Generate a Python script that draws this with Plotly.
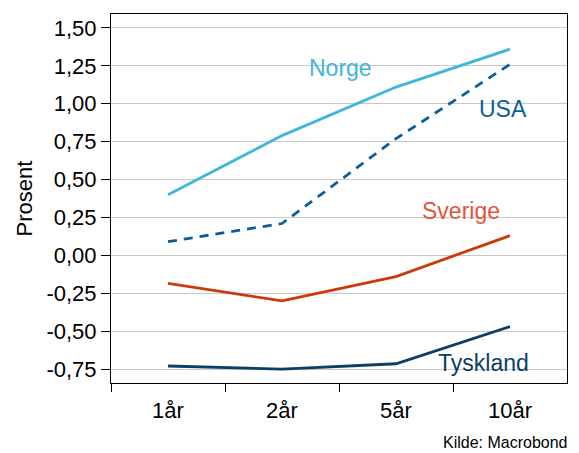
import plotly.graph_objects as go

categories = ["1år", "2år", "5år", "10år"]
norge = [0.40, 0.79, 1.11, 1.36]
usa = [0.09, 0.21, 0.77, 1.26]
sverige = [-0.185, -0.30, -0.14, 0.13]
tyskland = [-0.73, -0.75, -0.715, -0.47]

ytick_vals = [1.50, 1.25, 1.00, 0.75, 0.50, 0.25, 0.00, -0.25, -0.50, -0.75]
ytick_labels = ["1,50", "1,25", "1,00", "0,75", "0,50", "0,25", "0,00", "-0,25", "-0,50", "-0,75"]
xtick_boundaries = [-0.5, 0.5, 1.5, 2.5]

FONT = "Liberation Sans, Arial, sans-serif"

fig = go.Figure()
series = [
    ("Norge", norge, "#40b6da", "solid"),
    ("USA", usa, "#0b5e9c", "9px,7px"),
    ("Sverige", sverige, "#cc3a0c", "solid"),
    ("Tyskland", tyskland, "#0b3f66", "solid"),
]
for name, vals, col, dash in series:
    fig.add_trace(go.Scatter(x=categories, y=vals, mode="lines", name=name,
                             line=dict(color=col, width=2.8, dash=dash)))

# invisible helper trace so the boundary-tick axis is drawn
fig.add_trace(go.Scatter(x=[0], y=[0], xaxis="x2", mode="markers",
                         marker=dict(opacity=0), hoverinfo="skip", showlegend=False))

labels = [
    ("Norge", 1.51, 1.236, "#40b6da"),
    ("USA", 2.94, 0.966, "#0b5e9c"),
    ("Sverige", 2.57, 0.293, "#e2553a"),
    ("Tyskland", 2.77, -0.71, "#0b3f66"),
]
for txt, xv, yv, col in labels:
    fig.add_annotation(x=xv, y=yv, xref="x", yref="y", text=txt, showarrow=False,
                       font=dict(family=FONT, size=23, color=col))

fig.add_annotation(x=1.0, y=-0.1626, xref="paper", yref="paper", text="Kilde: Macrobond",
                   showarrow=False, xanchor="right", yanchor="middle", xshift=3,
                   font=dict(family=FONT, size=16, color="black"))

fig.add_annotation(x=-0.1886, y=0.5, xref="paper", yref="paper", text="Prosent",
                   showarrow=False, textangle=-90, xanchor="center", yanchor="middle",
                   font=dict(family=FONT, size=22, color="black"))

fig.update_layout(
    width=571, height=445,
    margin=dict(l=103, r=12, t=6, b=70),
    paper_bgcolor="white", plot_bgcolor="white",
    showlegend=False,
    font=dict(family=FONT, size=22, color="black"),
    xaxis=dict(type="category", range=[-0.5, 3.5],
               ticks="", showgrid=False,
               showline=True, linecolor="black", linewidth=1, mirror=True,
               automargin=False, tickfont=dict(size=22), ticklabelstandoff=8),
    xaxis2=dict(overlaying="x", anchor="y", side="bottom", range=[-0.5, 3.5],
                tickvals=xtick_boundaries, showticklabels=False,
                ticks="outside", ticklen=8, tickcolor="black", showgrid=False,
                zeroline=False, showline=False, automargin=False),
    yaxis=dict(range=[-0.842, 1.592], tickvals=ytick_vals, ticktext=ytick_labels,
               ticks="outside", ticklen=9, tickcolor="black",
               showgrid=True, gridcolor="#c8c8c8", gridwidth=1, zeroline=False,
               showline=True, linecolor="black", linewidth=1, mirror=True,
               automargin=False, tickfont=dict(size=22)),
)

fig.write_html("out.html")
